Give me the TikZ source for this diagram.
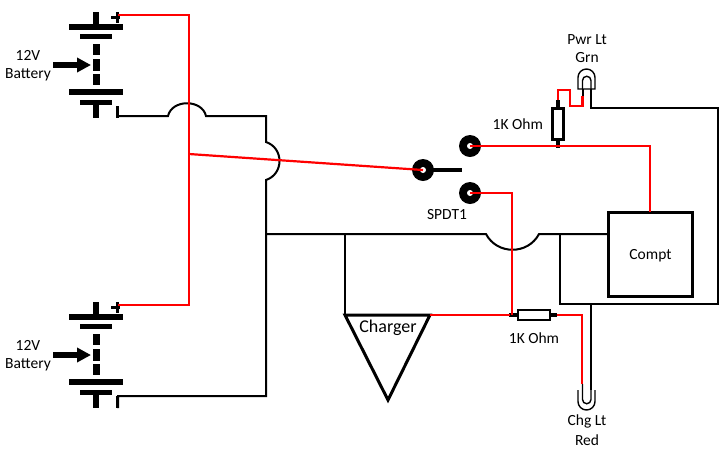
\documentclass[tikz,border=0pt]{standalone}
\usepackage{fontspec}
\setmainfont{Carlito}
\usetikzlibrary{arrows.meta, positioning}
\definecolor{wirered}{RGB}{255, 0, 0}
\tikzset{
    wire/.style={line width=2pt, black},
    redwire/.style={line width=2.2pt, wirered},
    plate/.style={line width=6pt},
    label/.style={font=\fontsize{15.5}{18}\selectfont, align=center, inner sep=0pt},
    contact/.style={circle, fill=black, minimum size=22pt, inner sep=0pt},
    resistor/.style={draw, line width=2.8pt, fill=white, inner sep=0pt},
    lamp/.style={line width=1.4pt}
}
\begin{document}
\begin{tikzpicture}[x=1pt, y=-1pt]
    \useasboundingbox (0,0) rectangle (720,451);

    % Batteries
    \foreach \name/\dy in {top/0, bot/290} {
        \begin{scope}[yshift=-\dy pt]
            \draw[plate] (96,12) -- (96,25);
            \draw[plate] (69,27) -- (123,27);
            \draw[line width=5pt] (80,36) -- (112,36);
            \draw[line width=7pt] (96,44) -- (96,55);
            \draw[line width=7pt] (96,59) -- (96,71);
            \draw[line width=7pt] (96,74) -- (96,85);
            \draw[plate] (69,92) -- (123,92);
            \draw[line width=5pt] (80,102) -- (112,102);
            \draw[plate] (96,104) -- (96,118);
            \draw[line width=3pt] (111,17.5) -- (120,17.5);
            \draw[line width=3pt] (117,12) -- (117,23);
            \coordinate (\name plus) at (118,15);
            \coordinate (\name minus) at (117,106);
            \node[label] (\name label) at (28,66) {12V\\Battery};
            \coordinate (\name tail) at (53,65);
            \coordinate (\name tip) at (91,65);
            \draw[line width=6pt, -{Triangle[length=14pt, width=14pt]}] (\name tail) -- (\name tip);
        \end{scope}
    }

    % Switch
    \node[contact] (pole) at (423,170) {};
    \node[contact] (upper) at (470,146) {};
    \node[contact] (lower) at (470,193) {};
    \coordinate (lever) at (462,170);
    \draw[line width=4.5pt] (pole.center) -- (lever);
    \fill[white] (pole) circle (3pt);
    \fill[white] (upper) circle (3pt);
    \fill[white] (lower) circle (3pt);
    \node[label] (spdt) at (447,215) {SPDT1};

    % Red junctions
    \coordinate (redA) at (189,15);
    \coordinate (redB) at (189,154);
    \coordinate (redC) at (189,305);
    \coordinate (compttop) at (650,212);
    \coordinate (chgin) at (512,315);

    % Black return wires
    \draw[wire] (118,116) -- (168,116) .. controls (172,99) and (202,99) .. (206,116)
        -- (266,116) -- (266,142) .. controls (284,148) and (284,174) .. (266,180)
        -- (266,396) -- (118,396) -- (118,408);
    \draw[line width=3pt] (topminus) -- (117,118);
    \draw[line width=3pt] (botminus) -- (117,408);
    \draw[wire] (266,234) -- (486,234) .. controls (497,255) and (528,255) .. (539,234) -- (608,234);
    \draw[wire] (345,234) -- (345,315);
    \draw[wire] (560,234) -- (560,304) -- (718,304) -- (718,108) -- (591,108) -- (591,89);
    \draw[wire] (591,304) -- (591,390);
    \draw[wire] (582.5,89) -- (582.5,96);

    % Compt and charger
    \node[draw, line width=3pt, minimum width=84pt, minimum height=84pt, inner sep=0pt, text depth=0pt, font=\fontsize{15.5}{18}\selectfont] (compt) at (650.5,254.5) {Compt};
    \coordinate (chgL) at (345,315);
    \coordinate (chgR) at (430,315);
    \coordinate (chgB) at (388,400);
    \draw[line width=3pt, line join=miter] (chgL) -- (chgR) -- (chgB) -- cycle;
    \node[font=\fontsize{18}{20}\selectfont, inner sep=0pt] (charger) at (388,328) {Charger};

    % Resistors
    \node[resistor, minimum width=11pt, minimum height=31pt] (rone) at (558,124) {};
    \node[resistor, minimum width=32pt, minimum height=10pt] (rtwo) at (534,315) {};
    \node[label, left=8pt of rone] (ronelabel) {1K Ohm};
    \node[label] (rtwolabel) at (534,338) {1K Ohm};
    \draw[line width=4pt] (rone.north) -- (558,100);
    \draw[line width=4pt] (rone.south) -- (558,148);
    \draw[line width=4pt] (rtwo.west) -- (509,315);
    \draw[line width=4pt] (rtwo.east) -- (557,315);

    % Red wires
    \draw[redwire] (topplus) -- (redA) -- (redC) -- (botplus);
    \draw[redwire] (redB) -- (pole.center);
    \draw[redwire] (upper.center) -- (650,146) -- (compttop);
    \draw[redwire] (lower.center) -- (512,193) -- (chgin);
    \draw[redwire] (chgR) -- (510,315);
    \draw[redwire] (557,315) -- (582,315) -- (582,384);
    \draw[redwire] (558,100) -- (558,90) -- (570,90) -- (570,106) -- (582.5,106) -- (582.5,96);

    % Lamps
    \draw[lamp] (578,89) -- (578,77.5) arc[start angle=180, end angle=360, radius=8.5] -- (595,89) -- cycle;
    \draw[lamp] (582.5,89) -- (582.5,80.5) arc[start angle=180, end angle=360, radius=4.25] -- (591,89);
    \draw[lamp] (578,390) -- (578,401.5) arc[start angle=180, end angle=0, radius=8.5] -- (595,390);
    \draw[lamp] (582.5,384) -- (582.5,399.5) arc[start angle=180, end angle=0, radius=4.25] -- (591,390);
    \node[label] (pwr) at (587,40) {Pwr Lt};
    \node[label] (grn) at (587,58) {Grn};
    \node[label] (chg) at (587,421) {Chg Lt};
    \node[label] (red) at (587,440) {Red};
\end{tikzpicture}
\end{document}
